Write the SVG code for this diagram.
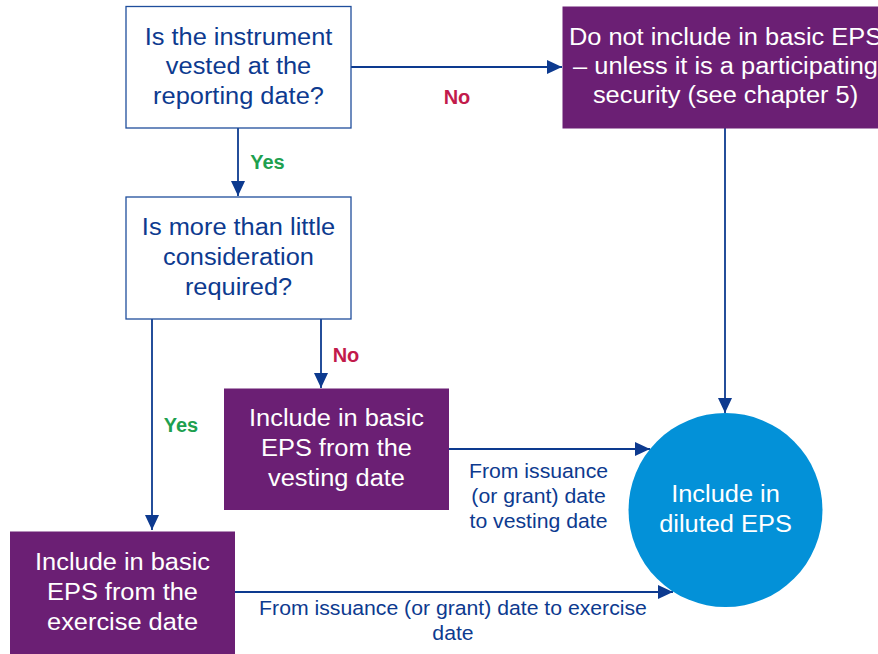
<svg xmlns="http://www.w3.org/2000/svg" width="878" height="654" viewBox="0 0 878 654">
<style>
.q{fill:#fff;stroke:#1f4e9c;stroke-width:1.3}
.p{fill:#6b1f74}
.c{fill:#0391d8}
.t{font-family:"Liberation Sans",Arial,sans-serif;font-size:23.3px;text-anchor:middle}
.tb{fill:#0d3a8f}
.tw{fill:#fff}
.lb{font-family:"Liberation Sans",Arial,sans-serif;font-size:19.3px;text-anchor:middle;fill:#0d3a8f}
.yn{font-family:"Liberation Sans",Arial,sans-serif;font-size:20px;font-weight:bold;text-anchor:middle}
.yes{fill:#1ea04f}
.no{fill:#c21a4b}
.cn{fill:none;stroke:#0d3a8f;stroke-width:1.8;marker-end:url(#ah)}
</style>
<defs>
<marker id="ah" markerUnits="userSpaceOnUse" markerWidth="15" markerHeight="14" refX="15" refY="7" orient="auto">
<path d="M0,0 L15,7 L0,14 z" fill="#0d3a8f"/>
</marker>
</defs>
<rect width="878" height="654" fill="#fff"/>
<g id="connectors">
<path class="cn" d="M351,67 H562"/>
<path class="cn" d="M238,128 V196"/>
<path class="cn" d="M725,128 V413"/>
<path class="cn" d="M321,319 V388"/>
<path class="cn" d="M152,319 V530"/>
<path class="cn" d="M449,449 H650"/>
<path class="cn" d="M235,592 H673"/>
<text class="yn no" x="457" y="104">No</text>
<text class="yn yes" x="267.5" y="169">Yes</text>
<text class="yn no" x="346" y="362">No</text>
<text class="yn yes" x="181" y="432">Yes</text>
<g transform="translate(538.5,0) scale(1.1,1)">
<text class="lb" x="0" y="478">From issuance</text>
<text class="lb" x="0" y="503">(or grant) date</text>
<text class="lb" x="0" y="528">to vesting date</text>
</g>
<g transform="translate(453,0) scale(1.1,1)">
<text class="lb" x="0" y="615">From issuance (or grant) date to exercise</text>
<text class="lb" x="0" y="640">date</text>
</g>
</g>
<g id="q1">
<rect class="q" x="126" y="6.5" width="225" height="121.5"/>
<g transform="translate(238.5,0) scale(1.09,1)">
<text class="t tb" x="0" y="45">Is the instrument</text>
<text class="t tb" x="0" y="74.5">vested at the</text>
<text class="t tb" x="0" y="104">reporting date?</text>
</g>
</g>
<g id="exclude">
<rect class="p" x="562.5" y="6.5" width="330" height="122"/>
<g transform="translate(725.5,0) scale(1.09,1)">
<text class="t tw" x="0" y="45">Do not include in basic EPS</text>
<text class="t tw" x="0" y="74">– unless it is a participating</text>
<text class="t tw" x="0" y="103">security (see chapter 5)</text>
</g>
</g>
<g id="q2">
<rect class="q" x="126" y="197" width="225" height="122"/>
<g transform="translate(238.5,0) scale(1.09,1)">
<text class="t tb" x="0" y="235.5">Is more than little</text>
<text class="t tb" x="0" y="265.5">consideration</text>
<text class="t tb" x="0" y="295">required?</text>
</g>
</g>
<g id="vesting">
<rect class="p" x="224" y="388.5" width="225" height="121.5"/>
<g transform="translate(336.5,0) scale(1.09,1)">
<text class="t tw" x="0" y="426.5">Include in basic</text>
<text class="t tw" x="0" y="456.5">EPS from the</text>
<text class="t tw" x="0" y="486">vesting date</text>
</g>
</g>
<g id="exercise">
<rect class="p" x="10" y="531.5" width="225" height="125"/>
<g transform="translate(122.5,0) scale(1.09,1)">
<text class="t tw" x="0" y="570">Include in basic</text>
<text class="t tw" x="0" y="600">EPS from the</text>
<text class="t tw" x="0" y="630">exercise date</text>
</g>
</g>
<g id="diluted">
<circle class="c" cx="725.5" cy="510" r="97"/>
<g transform="translate(725.5,0) scale(1.09,1)">
<text class="t tw" x="0" y="502.5">Include in</text>
<text class="t tw" x="0" y="532.5">diluted EPS</text>
</g>
</g>
</svg>
